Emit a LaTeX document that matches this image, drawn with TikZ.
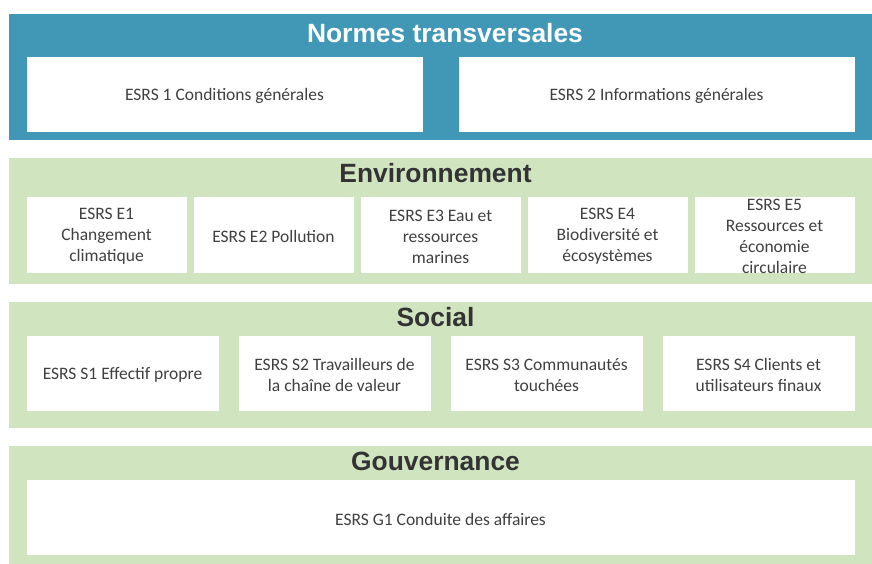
\documentclass[tikz,border=0pt]{standalone}
\usepackage{fontspec}
\setmainfont{Carlito}
\newfontfamily\titlefont{Liberation Sans}
\usetikzlibrary{positioning}
\definecolor{bandblue}{RGB}{64,152,182}
\definecolor{bandgreen}{RGB}{209,228,192}
\definecolor{textgray}{RGB}{64,64,64}
\definecolor{titledark}{RGB}{51,51,51}
\tikzset{
band/.style = {rectangle, inner sep=0pt, outer sep=0pt, minimum width=863pt, minimum height=126pt},
head/.style = {inner sep=0pt, font=\titlefont\bfseries\fontsize{26.4}{30}\selectfont},
boxtext/.style = {inner sep=0pt, align=center, text=textgray, font=\fontsize{17.5}{21}\selectfont, yshift=-2pt},
esrs/.style = {draw=white, fill=white, rectangle, inner sep=0pt, outer sep=0pt, minimum height=74pt},
esrsl/.style = {esrs, label={[boxtext]center:#1}}
}

\begin{document}
\begin{tikzpicture}[x=1pt, y=-1pt, node distance=8pt]
    \useasboundingbox (0,0) rectangle (872,563);
    % normes transversales
    \node [band, fill=bandblue] (bnormes) at (440.5,77) {};
    \node [head, text=white] (tnormes) at (445,33) {Normes transversales};
    \node [esrsl={ESRS 1 Conditions générales}, minimum width=395pt] (n1) at (224.5,94) {};
    \node [esrsl={ESRS 2 Informations générales}, minimum width=395pt, right=37pt of n1] (n2) {};
    % environnement
    \node [band, fill=bandgreen] (benv) at (440.5,220.5) {};
    \node [head, text=titledark] (tenv) at (435.5,173) {Environnement};
    \node [esrsl={ESRS E1\\Changement\\climatique}, minimum width=159pt, minimum height=75pt] (e1) at (106.5,234.5) {};
    \node [esrsl={ESRS E2 Pollution}, minimum width=159pt, minimum height=75pt, right=of e1] (e2) {};
    \node [esrsl={ESRS E3 Eau et\\ressources\\marines}, minimum width=159pt, minimum height=75pt, right=of e2] (e3) {};
    \node [esrsl={ESRS E4\\Biodiversité et\\écosystèmes}, minimum width=159pt, minimum height=75pt, right=of e3] (e4) {};
    \node [esrsl={ESRS E5\\Ressources et\\économie\\circulaire}, minimum width=159pt, minimum height=75pt, right=of e4] (e5) {};
    % social
    \node [band, fill=bandgreen] (bsoc) at (440.5,365) {};
    \node [head, text=titledark] (tsoc) at (435.5,317) {Social};
    \node [esrsl={ESRS S1 Effectif propre}, minimum width=191pt] (s1) at (122.5,373) {};
    \node [esrsl={ESRS S2 Travailleurs de\\la chaîne de valeur}, minimum width=191pt, right=21pt of s1] (s2) {};
    \node [esrsl={ESRS S3 Communautés\\touchées}, minimum width=191pt, right=21pt of s2] (s3) {};
    \node [esrsl={ESRS S4 Clients et\\utilisateurs finaux}, minimum width=191pt, right=21pt of s3] (s4) {};
    % gouvernance
    \node [band, fill=bandgreen] (bgouv) at (440.5,509) {};
    \node [head, text=titledark] (tgouv) at (435.5,461) {Gouvernance};
    \node [esrsl={ESRS G1 Conduite des affaires}, minimum width=827pt] (g1) at (440.5,517) {};
\end{tikzpicture}
\end{document}
